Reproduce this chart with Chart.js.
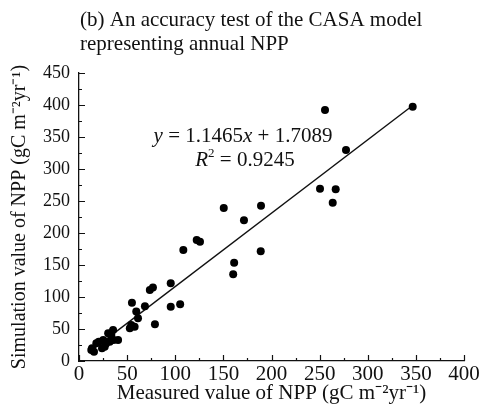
<!DOCTYPE html>
<html>
<head>
<meta charset="utf-8">
<script src="https://cdn.jsdelivr.net/npm/chart.js@4.4.1/dist/chart.umd.min.js"></script>
<style>
  html, body { margin: 0; padding: 0; background: #fff; }
  #wrap { width: 483px; height: 411px; }
</style>
</head>
<body>
<div id="wrap"><canvas id="npp"></canvas></div>
<script>
// measured NPP (x) vs CASA simulated NPP (y), gC m-2 yr-1
var measured = [346.7, 255.6, 277.4, 250.4, 266.7, 263.6, 189.1, 150.4, 171.4, 122.3,
                125.7, 108.4, 188.8, 161.2, 160.2, 95.3, 76.8, 73.6, 55, 68.5,
                59.5, 95.3, 105.1, 61.3, 78.9, 52.8, 54.3, 57.8, 35.4, 30.3,
                33.6, 40.6, 36, 31.9, 25.2, 20.5, 18, 26.7, 23.9, 12.8,
                15.6, 13.5, 28];
var simulated = [397.3, 392, 329.7, 269.2, 268.3, 247.3, 242.5, 239, 219.8, 189,
                 186.4, 173.4, 171.4, 153.6, 135.5, 121.4, 114.7, 111, 91, 85.5,
                 77.3, 84.9, 88.8, 66.7, 57.5, 51, 56.3, 53.6, 48.4, 43.3,
                 40.6, 32.8, 32.8, 30.2, 32.8, 30.2, 27.7, 22.3, 19.8, 17.2,
                 14.5, 20, 27];
// ends of the fitted line
var fitX = [11, 346];
var fitY = [14.3, 398.4];

var xTicks = [0, 50, 100, 150, 200, 250, 300, 350, 400];
var yTicks = [0, 50, 100, 150, 200, 250, 300, 350, 400, 450];

var titleLines = ["(b) An accuracy test of the CASA model", "representing annual NPP"];
var xTitle = "Measured value of NPP (gC m\u207B\u00B2yr\u207B\u00B9)";
var yTitle = "Simulation value of NPP (gC m\u207B\u00B2yr\u207B\u00B9)";

var SERIF = "'Liberation Serif', 'Times New Roman', serif";

var points = measured.map(function (m, i) { return { x: m, y: simulated[i] }; });
var fitLine = fitX.map(function (v, i) { return { x: v, y: fitY[i] }; });

// figure title + regression equation + inward tick marks
var extras = {
  id: 'extras',
  afterDraw: function (chart) {
    var ctx = chart.ctx;
    var xs = chart.scales.x, ys = chart.scales.y;
    ctx.save();
    ctx.fillStyle = '#111';
    ctx.textBaseline = 'alphabetic';
    ctx.font = '21px ' + SERIF;
    ctx.textAlign = 'left';
    ctx.fillText(titleLines[0], 80, 26);
    ctx.fillText(titleLines[1], 80, 50);

    // equation, centred around x = 244px
    var parts = [['italic', 'y'], ['normal', ' = 1.1465'], ['italic', 'x'], ['normal', ' + 1.7089']];
    var w = 0;
    parts.forEach(function (p) { ctx.font = p[0] + ' 21px ' + SERIF; w += ctx.measureText(p[1]).width; });
    var cx = 243, px = cx - w / 2;
    parts.forEach(function (p) {
      ctx.font = p[0] + ' 21px ' + SERIF;
      ctx.fillText(p[1], px, 142);
      px += ctx.measureText(p[1]).width;
    });
    ctx.font = 'italic 21px ' + SERIF;
    var wR = ctx.measureText('R').width;
    ctx.font = '13px ' + SERIF;
    var w2 = ctx.measureText('2').width;
    ctx.font = '21px ' + SERIF;
    var wRest = ctx.measureText(' = 0.9245').width;
    px = cx + 2 - (wR + w2 + wRest) / 2;
    ctx.font = 'italic 21px ' + SERIF;
    ctx.fillText('R', px, 166); px += wR;
    ctx.font = '13px ' + SERIF;
    ctx.fillText('2', px, 157); px += w2;
    ctx.font = '21px ' + SERIF;
    ctx.fillText(' = 0.9245', px, 166);

    // ticks pointing into the plot
    ctx.strokeStyle = '#111';
    ctx.lineWidth = 1.2;
    ctx.beginPath();
    for (var v = 0; v <= 400; v += 25) {
      var p = Math.round(xs.getPixelForValue(v)) + 0.5;
      var len = v % 50 === 0 ? 6 : 3;
      ctx.moveTo(p, ys.bottom);
      ctx.lineTo(p, ys.bottom - len);
    }
    for (var u = 0; u <= 450; u += 25) {
      var q = Math.round(ys.getPixelForValue(u)) + 0.5;
      var l2 = u % 50 === 0 ? 6 : 3;
      ctx.moveTo(xs.left, q);
      ctx.lineTo(xs.left + l2, q);
    }
    ctx.stroke();
    ctx.restore();
  }
};

new Chart(document.getElementById('npp'), {
  type: 'scatter',
  data: {
    datasets: [{
      label: 'sites',
      data: points,
      backgroundColor: '#000',
      borderColor: '#000',
      pointRadius: 4,
      pointHoverRadius: 4,
      borderWidth: 0
    }, {
      label: 'fit',
      type: 'line',
      data: fitLine,
      borderColor: '#111',
      borderWidth: 1.4,
      pointRadius: 0,
      fill: false
    }]
  },
  options: {
    responsive: true,
    maintainAspectRatio: false,
    animation: false,
    devicePixelRatio: 1,
    layout: { padding: { top: 73, right: 19, bottom: 0, left: 0 } },
    plugins: {
      legend: { display: false },
      tooltip: { enabled: false },
      title: { display: false }
    },
    scales: {
      x: {
        type: 'linear',
        min: 0, max: 400,
        afterFit: function (s) { s.height = 50; },
        afterBuildTicks: function (s) { s.ticks = xTicks.map(function (v) { return { value: v }; }); },
        grid: { display: false, drawTicks: false },
        border: { display: true, color: '#111', width: 1.3 },
        ticks: { color: '#111', padding: 1, maxRotation: 0, font: { family: SERIF, size: 21 } },
        title: { display: true, text: xTitle, color: '#111', padding: { top: 0, bottom: 5 },
                 font: { family: SERIF, size: 21, lineHeight: 1.2 } }
      },
      y: {
        type: 'linear',
        min: 0, max: 450,
        afterFit: function (s) { s.width = 79; },
        afterBuildTicks: function (s) { s.ticks = yTicks.map(function (v) { return { value: v }; }); },
        grid: { display: false, drawTicks: false },
        border: { display: true, color: '#111', width: 1.3 },
        ticks: { color: '#111', padding: 9, font: { family: SERIF, size: 18 } },
        title: { display: true, text: yTitle, color: '#111', padding: { top: 8, bottom: 0 },
                 font: { family: SERIF, size: 20, lineHeight: 1.2 } }
      }
    }
  },
  plugins: [extras]
});
</script>
</body>
</html>
